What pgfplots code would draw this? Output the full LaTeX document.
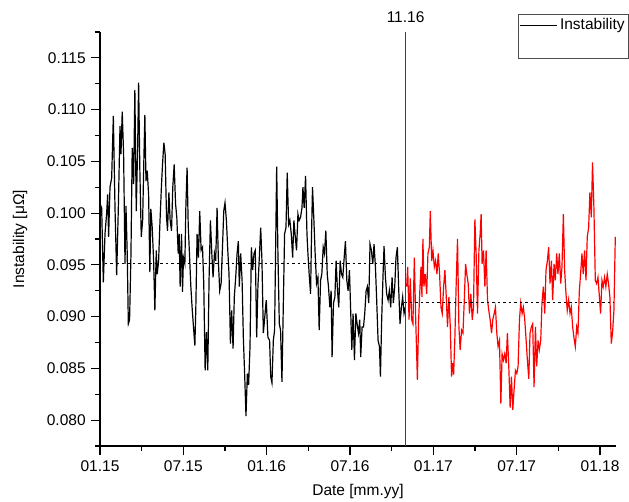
\documentclass[border=0pt]{standalone}
\usepackage{fontspec}
\setmainfont{Liberation Sans}
\usepackage{pgfplots}
\pgfplotsset{compat=1.18}

\begin{document}
\fontsize{15.5}{18}\selectfont
\begin{tikzpicture}
\useasboundingbox (-100pt,-55pt) rectangle (529pt,446pt);
\begin{axis}[
    scale only axis, width=516pt, height=414pt,
    at={(0pt,0pt)}, anchor=south west,
    xmin=0, xmax=37.15, ymin=0.0775, ymax=0.1175,
    axis lines*=left,
    axis line style={-, line width=1.2pt},
    tick style={black, line width=1.2pt},
    tick align=outside,
    major tick length=9pt, minor tick length=5pt,
    xtick={0,6,12,18,24,30,36},
    xticklabels={01.15,07.15,01.16,07.16,01.17,07.17,01.18},
    minor xtick={3,9,15,21,27,33},
    ytick={0.080,0.085,0.090,0.095,0.100,0.105,0.110,0.115},
    minor ytick={0.0775,0.0825,0.0875,0.0925,0.0975,0.1025,0.1075,0.1125,0.1175},
    scaled y ticks=false,
    yticklabel style={/pgf/number format/.cd, fixed, fixed zerofill, precision=3},
    /pgf/number format/assume math mode=true,
    xlabel={Date [mm.yy]},
    ylabel={Instability [μΩ]},
    xlabel style={at={(axis description cs:0.5,-0.111)}, anchor=center},
    ylabel style={at={(axis description cs:-0.155,0.5)}, anchor=center},
    clip=false,
    legend image code/.code={\draw[#1, line width=0.8pt] (0pt,0pt) -- (37pt,0pt);},
    legend cell align=left,
    legend style={at={(axis description cs:0.810,1.0435)}, anchor=north west,
        draw=black!70, line width=0.6pt, inner xsep=1pt, inner ysep=2pt,
        row sep=2pt, nodes={inner xsep=3pt}},
]
% before 11.16
\addplot[black, line width=1.2pt] coordinates {
(0.00,0.1009) (0.12,0.1005) (0.24,0.0933) (0.36,0.0980) (0.48,0.1000) (0.55,0.1018) (0.62,0.0977) (0.72,0.1025) (0.84,0.1034) (0.96,0.1094)
(1.08,0.1005) (1.20,0.0940) (1.32,0.1005) (1.44,0.1084) (1.51,0.1057) (1.60,0.1098) (1.70,0.1057) (1.80,0.0951) (1.87,0.1007) (1.96,0.0961)
(2.04,0.0893) (2.13,0.0897) (2.23,0.0961) (2.32,0.1063) (2.42,0.1028) (2.51,0.1119) (2.61,0.1002) (2.71,0.1063) (2.78,0.1126) (2.87,0.1041)
(2.97,0.0977) (3.07,0.0993) (3.16,0.1053) (3.23,0.1095) (3.31,0.1031) (3.40,0.1041) (3.50,0.1018) (3.59,0.0943) (3.66,0.1004) (3.76,0.0986)
(3.86,0.0954) (3.95,0.0906) (4.05,0.0964) (4.12,0.0941) (4.22,0.0954) (4.31,0.0989) (4.41,0.1022) (4.50,0.1047) (4.60,0.1068) (4.69,0.1057)
(4.79,0.0996) (4.86,0.0983) (4.96,0.1020) (5.05,0.0993) (5.15,0.0983) (5.24,0.1025) (5.34,0.1047) (5.44,0.1009) (5.53,0.0996) (5.63,0.0961)
(5.70,0.0980) (5.77,0.0929) (5.87,0.0980) (5.94,0.0924) (6.01,0.0957) (6.11,0.0951) (6.18,0.1005) (6.27,0.1044) (6.35,0.0989) (6.44,0.0961)
(6.54,0.0929) (6.63,0.0909) (6.73,0.0890) (6.83,0.0872) (6.90,0.0909) (6.99,0.0980) (7.09,0.0957) (7.18,0.1002) (7.28,0.0964) (7.38,0.0967)
(7.47,0.0932) (7.57,0.0848) (7.66,0.0885) (7.76,0.0848) (7.85,0.0935) (7.95,0.0993) (8.05,0.0961) (8.14,0.0938) (8.24,0.0961) (8.33,0.0954)
(8.43,0.1005) (8.53,0.0951) (8.62,0.0925) (8.72,0.0932) (8.81,0.0964) (8.91,0.1002) (9.00,0.1010) (9.10,0.0993) (9.20,0.0964) (9.29,0.0941)
(9.39,0.0874) (9.48,0.0906) (9.58,0.0869) (9.67,0.0919) (9.77,0.0938) (9.87,0.0961) (9.96,0.0973) (10.03,0.0929) (10.13,0.0961) (10.23,0.0935)
(10.32,0.0880) (10.42,0.0842) (10.51,0.0804) (10.61,0.0845) (10.70,0.0834) (10.80,0.0871) (10.90,0.0967) (10.99,0.0945) (11.09,0.0961) (11.18,0.0964)
(11.28,0.0880) (11.37,0.0929) (11.47,0.0957) (11.57,0.0986) (11.66,0.0954) (11.76,0.0884) (11.97,0.0916) (12.09,0.0880) (12.21,0.0877) (12.29,0.0842)
(12.38,0.0836) (12.48,0.0877) (12.57,0.0887) (12.64,0.0961) (12.72,0.1045) (12.81,0.0961) (12.91,0.0893) (13.00,0.0887) (13.10,0.0837) (13.20,0.0913)
(13.29,0.0980) (13.39,0.0986) (13.48,0.1039) (13.58,0.0989) (13.67,0.0993) (13.77,0.0980) (13.87,0.0957) (13.96,0.0993) (14.06,0.0977) (14.15,0.0964)
(14.25,0.0999) (14.34,0.0993) (14.44,0.0996) (14.54,0.1005) (14.61,0.1025) (14.70,0.1005) (14.80,0.1036) (14.90,0.0980) (14.97,0.0961) (15.06,0.0941)
(15.16,0.0922) (15.23,0.0980) (15.30,0.1025) (15.40,0.0993) (15.49,0.0961) (15.59,0.0932) (15.69,0.0938) (15.78,0.0887) (15.88,0.0935) (15.97,0.0941)
(16.07,0.0967) (16.16,0.0961) (16.26,0.0983) (16.36,0.0941) (16.45,0.0929) (16.55,0.0909) (16.64,0.0925) (16.71,0.0861) (16.81,0.0913) (16.91,0.0919)
(17.00,0.0954) (17.10,0.0925) (17.19,0.0909) (17.29,0.0954) (17.39,0.0941) (17.48,0.0938) (17.58,0.0957) (17.67,0.0973) (17.77,0.0935) (17.86,0.0925)
(17.96,0.0945) (18.06,0.0900) (18.13,0.0868) (18.22,0.0903) (18.32,0.0858) (18.42,0.0903) (18.51,0.0893) (18.61,0.0884) (18.70,0.0897) (18.77,0.0861)
(18.87,0.0890) (18.97,0.0890) (19.06,0.0903) (19.16,0.0925) (19.25,0.0929) (19.35,0.0913) (19.44,0.0970) (19.54,0.0964) (19.64,0.0951) (19.73,0.0970)
(19.83,0.0948) (19.92,0.0916) (20.02,0.0877) (20.12,0.0871) (20.19,0.0842) (20.28,0.0897) (20.38,0.0941) (20.45,0.0968) (20.55,0.0938) (20.64,0.0922)
(20.74,0.0916) (20.83,0.0925) (20.93,0.0909) (21.03,0.0938) (21.12,0.0913) (21.22,0.0929) (21.31,0.0957) (21.41,0.0967) (21.50,0.0929) (21.60,0.0893)
(21.70,0.0909) (21.79,0.0919) (21.89,0.0903) (21.98,0.0909)
};
\addlegendentry{Instability}
\addlegendimage{empty legend}
\addlegendentry{\rule{0pt}{14pt}}
% after 11.16
\addplot[red, line width=1.2pt, forget plot] coordinates {
(22.08,0.0929) (22.15,0.0948) (22.25,0.0897) (22.34,0.0937) (22.44,0.0897) (22.53,0.0893) (22.63,0.0957) (22.73,0.0897) (22.85,0.0839) (22.94,0.0897)
(23.04,0.0929) (23.11,0.0948) (23.18,0.0919) (23.25,0.0975) (23.32,0.0929) (23.42,0.0941) (23.52,0.0922) (23.61,0.0961) (23.71,0.0967) (23.78,0.1002)
(23.88,0.0954) (23.97,0.0964) (24.07,0.0948) (24.16,0.0954) (24.26,0.0941) (24.35,0.0961) (24.45,0.0941) (24.55,0.0909) (24.64,0.0903) (24.74,0.0929)
(24.83,0.0945) (24.93,0.0919) (25.02,0.0890) (25.12,0.0919) (25.22,0.0890) (25.31,0.0842) (25.38,0.0855) (25.46,0.0844) (25.55,0.0880) (25.65,0.0935)
(25.74,0.0975) (25.84,0.0890) (25.93,0.0868) (26.03,0.0887) (26.13,0.0884) (26.22,0.0913) (26.32,0.0951) (26.41,0.0941) (26.51,0.0932) (26.60,0.0903)
(26.70,0.0922) (26.80,0.0897) (26.89,0.0909) (26.99,0.0994) (27.08,0.0961) (27.18,0.0903) (27.28,0.0964) (27.37,0.0980) (27.44,0.0999) (27.51,0.0951)
(27.61,0.0964) (27.71,0.0929) (27.80,0.0964) (27.90,0.0916) (27.99,0.0906) (28.09,0.0897) (28.19,0.0884) (28.28,0.0897) (28.38,0.0903) (28.47,0.0909)
(28.57,0.0884) (28.66,0.0871) (28.76,0.0877) (28.86,0.0816) (28.95,0.0864) (29.05,0.0858) (29.14,0.0864) (29.24,0.0855) (29.33,0.0884) (29.43,0.0852)
(29.53,0.0812) (29.62,0.0842) (29.72,0.0810) (29.81,0.0829) (29.91,0.0848) (30.01,0.0845) (30.10,0.0852) (30.20,0.0897) (30.29,0.0913) (30.39,0.0903)
(30.48,0.0909) (30.58,0.0897) (30.68,0.0877) (30.77,0.0858) (30.87,0.0840) (30.96,0.0884) (31.06,0.0890) (31.15,0.0893) (31.25,0.0832) (31.35,0.0890)
(31.44,0.0852) (31.54,0.0877) (31.63,0.0868) (31.73,0.0877) (31.82,0.0913) (31.92,0.0929) (32.02,0.0903) (32.11,0.0945) (32.21,0.0954) (32.30,0.0967)
(32.40,0.0932) (32.50,0.0954) (32.59,0.0916) (32.69,0.0951) (32.78,0.0935) (32.88,0.0961) (32.97,0.0941) (33.07,0.0961) (33.17,0.0932) (33.26,0.0948)
(33.36,0.0999) (33.45,0.0945) (33.55,0.0922) (33.64,0.0906) (33.74,0.0916) (33.84,0.0903) (33.93,0.0909) (34.03,0.0890) (34.12,0.0880) (34.22,0.0871)
(34.32,0.0890) (34.41,0.0884) (34.51,0.0925) (34.60,0.0941) (34.70,0.0961) (34.79,0.0941) (34.89,0.0964) (34.99,0.0935) (35.08,0.0977) (35.18,0.0986)
(35.27,0.1020) (35.37,0.0996) (35.46,0.1049) (35.56,0.1005) (35.66,0.0935) (35.75,0.0932) (35.85,0.0938) (35.94,0.0922) (36.04,0.0903) (36.14,0.0935)
(36.23,0.0929) (36.33,0.0938) (36.42,0.0929) (36.52,0.0941) (36.61,0.0932) (36.71,0.0919) (36.81,0.0874) (36.90,0.0884) (37.00,0.0906) (37.10,0.0977)
};
% mean levels
\addplot[black, line width=0.8pt, dash pattern=on 2.5pt off 3pt, forget plot] coordinates {(0.36,0.0951) (21.80,0.0951)};
\addplot[black, line width=0.8pt, dash pattern=on 2.5pt off 3pt, forget plot] coordinates {(21.90,0.0914) (37.00,0.0914)};
% 11.16 marker
\draw[black!75, line width=0.8pt] (axis cs:22,0.0775) -- (axis cs:22,0.1175)
    node[above, black, yshift=4pt] {11.16};
\end{axis}
\end{tikzpicture}
\end{document}
